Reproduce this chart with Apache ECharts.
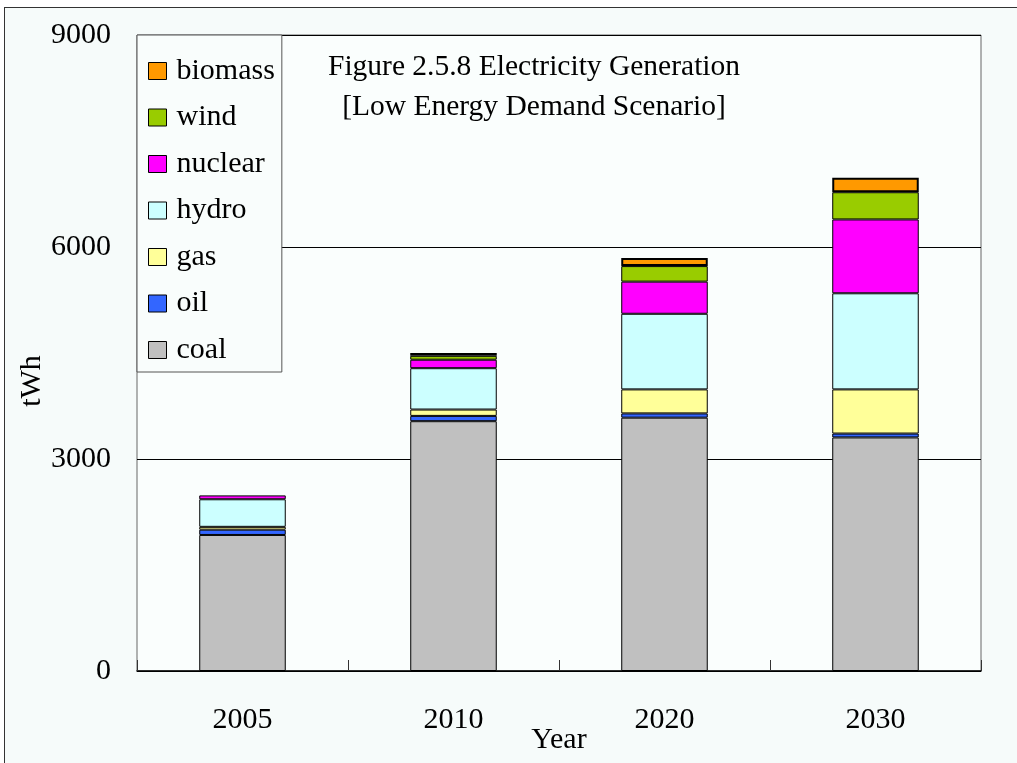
<!DOCTYPE html>
<html>
<head>
<meta charset="utf-8">
<script src="https://cdn.jsdelivr.net/npm/echarts@6/dist/echarts.min.js"></script>
<style>
  html, body { margin: 0; padding: 0; background: #ffffff; overflow: hidden; width: 1017px; height: 763px; }
  #bg { position: absolute; left: 4px; top: 7px; width: 1013px; height: 756px; box-sizing: border-box;
        background: #F6FBFA; border-left: 1.5px solid #333; border-top: 1.5px solid #333; }
  #chart { position: absolute; left: 0; top: 0; width: 1017px; height: 763px; }
</style>
</head>
<body>
<div id="bg"></div>
<div id="chart"></div>
<script>
const categories = ['2005', '2010', '2020', '2030'];
const seriesNames = ['coal', 'oil', 'gas', 'hydro', 'nuclear', 'wind', 'biomass'];
const coal    = [1925, 3535, 3585, 3305];
const oil     = [75, 75, 60, 55];
const gas     = [40, 90, 340, 625];
const hydro   = [390, 585, 1070, 1360];
const nuclear = [55, 120, 455, 1045];
const wind    = [null, 55, 220, 385];
const biomass = [null, 40, 115, 205];
const yTicks  = [0, 3000, 6000, 9000];
const legendOrder = ['biomass', 'wind', 'nuclear', 'hydro', 'gas', 'oil', 'coal'];

const values = { coal, oil, gas, hydro, nuclear, wind, biomass };
const colors = {
  coal: '#C0C0C0', oil: '#3366FF', gas: '#FFFF99', hydro: '#CCFFFF',
  nuclear: '#FF00FF', wind: '#99CC00', biomass: '#FF9900'
};
const font = '"Liberation Serif", "Times New Roman", serif';

const chart = echarts.init(document.getElementById('chart'), null, { renderer: 'canvas' });
chart.setOption({
  backgroundColor: 'transparent',
  animation: false,
  textStyle: { fontFamily: font, color: '#000' },
  title: {
    text: 'Figure 2.5.8 Electricity Generation\n[Low Energy Demand Scenario]',
    left: 529, top: 42, textAlign: 'center',
    textStyle: { fontFamily: font, fontSize: 29.5, fontWeight: 'normal', color: '#000', lineHeight: 40 }
  },
  legend: {
    data: legendOrder,
    orient: 'vertical',
    left: 137, top: 35,
    padding: [21, 7, 7, 11],
    itemWidth: 18, itemHeight: 17, itemGap: 16.5,
    icon: 'rect',
    backgroundColor: '#F9FDFC',
    borderColor: '#555', borderWidth: 1,
    textStyle: { fontFamily: font, fontSize: 30, color: '#000', lineHeight: 30, padding: [0, 0, 0, 5] },
    itemStyle: { borderColor: '#000', borderWidth: 1 }
  },
  grid: {
    left: 137, right: 36, top: 35, bottom: 92,
    outerBoundsMode: 'none', containLabel: false,
    show: true, backgroundColor: '#FAFEFD', borderColor: '#666', borderWidth: 1
  },
  xAxis: {
    type: 'category',
    data: categories,
    name: 'Year', nameLocation: 'middle', nameGap: 54, nameMoveOverlap: false,
    nameTextStyle: { fontFamily: font, fontSize: 30, color: '#000' },
    axisLine: { show: true, lineStyle: { color: '#000', width: 1.5 } },
    axisTick: { show: true, inside: true, length: 11, lineStyle: { color: '#333' } },
    axisLabel: { fontFamily: font, fontSize: 30, color: '#000', margin: 34 }
  },
  yAxis: {
    type: 'value',
    min: yTicks[0], max: yTicks[yTicks.length - 1], interval: 3000,
    axisLine: { show: false },
    axisTick: { show: false },
    axisLabel: { fontFamily: font, fontSize: 30, color: '#000', margin: 26, formatter: v => String(v) },
    splitLine: { show: true, lineStyle: { color: '#000', width: 1 } }
  },
  graphic: [{
    type: 'text', x: 32, y: 381, rotation: Math.PI / 2,
    style: { text: 'tWh', font: '30px ' + font, fill: '#000', align: 'center', verticalAlign: 'middle' }
  }],
  series: seriesNames.map(n => ({
    name: n, type: 'bar', stack: 'total', barWidth: '41%',
    data: values[n],
    itemStyle: { color: colors[n], borderColor: '#000', borderWidth: n === 'biomass' ? 2 : 1 }
  }))
});
</script>
</body>
</html>
